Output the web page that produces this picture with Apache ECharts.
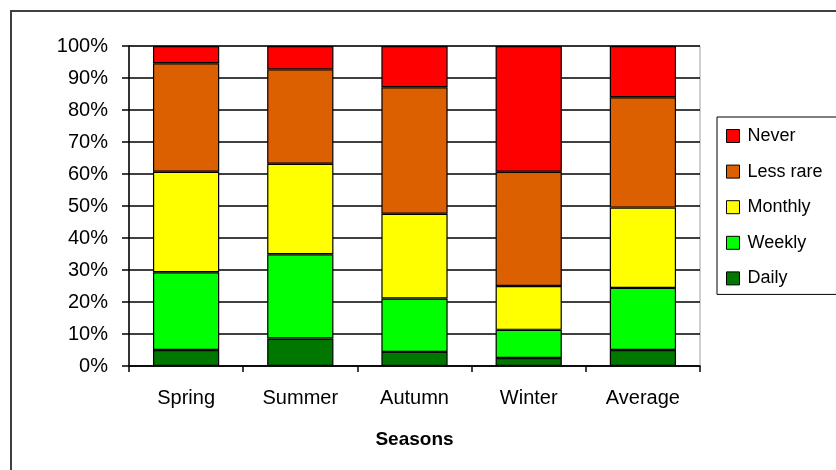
<!DOCTYPE html>
<html>
<head>
<meta charset="utf-8">
<script src="https://cdn.jsdelivr.net/npm/echarts@6/dist/echarts.min.js"></script>
<style>
  html, body { margin: 0; padding: 0; background: #fff; }
  #chart { width: 836px; height: 470px; }
</style>
</head>
<body>
<div id="chart"></div>
<script>
// categories and stacked shares (percent)
var seasons = ["Spring", "Summer", "Autumn", "Winter", "Average"];
var daily = [5.0, 8.6, 4.4, 2.5, 5.0];
var weekly = [24.3, 26.3, 16.7, 8.8, 19.4];
var monthly = [31.4, 28.3, 26.5, 13.7, 25.1];
var lessRare = [33.9, 29.5, 39.5, 35.7, 34.5];
var never = [5.4, 7.3, 12.9, 39.3, 16.0];

var font = "Arial, 'Liberation Sans', sans-serif";

function bar(name, data, color) {
  return {
    name: name,
    type: "bar",
    stack: "total",
    barWidth: "58%",
    data: data,
    itemStyle: { color: color, borderColor: "#000", borderWidth: 1.2 },
  };
}

var chart = echarts.init(document.getElementById("chart"));
chart.setOption({
  animation: false,
  grid: {
    left: 129,
    right: 136,
    top: 46,
    bottom: 104,
    show: true,
    borderColor: "#a0a0a0",
    borderWidth: 1,
  },
  graphic: [
    {
      type: "rect",
      shape: { x: 11, y: 11, width: 900, height: 500 },
      style: { fill: null, stroke: "#404040", lineWidth: 2 },
      silent: true,
    },
  ],
  legend: {
    orient: "vertical",
    left: 717,
    top: 117,
    padding: [10, 30, 7, 9],
    borderColor: "#000",
    borderWidth: 1,
    itemWidth: 13,
    itemHeight: 13,
    itemGap: 17.6,
    icon: "rect",
    data: ["Never", "Less rare", "Monthly", "Weekly", "Daily"],
    textStyle: { fontFamily: font, fontSize: 18, color: "#000", padding: [0, 0, 0, 3] },
    itemStyle: { borderColor: "#000", borderWidth: 1 },
  },
  xAxis: {
    type: "category",
    data: seasons,
    name: "Seasons",
    nameLocation: "middle",
    nameGap: 64,
    nameTextStyle: { fontFamily: font, fontSize: 19, fontWeight: "bold", color: "#000" },
    axisLine: { lineStyle: { color: "#000", width: 1.5 } },
    axisTick: { show: true, length: 6, lineStyle: { color: "#000", width: 1.5 } },
    axisLabel: { fontFamily: font, fontSize: 20, color: "#000", margin: 22 },
  },
  yAxis: {
    type: "value",
    min: 0,
    max: 100,
    interval: 10,
    axisLine: { show: true, lineStyle: { color: "#000", width: 1.5 } },
    axisTick: { show: true, length: 7, lineStyle: { color: "#000", width: 1.5 } },
    axisLabel: { fontFamily: font, fontSize: 20, color: "#000", margin: 21, formatter: "{value}%" },
    splitLine: { show: true, lineStyle: { color: "#000", width: 1.5 } },
  },
  series: [
    bar("Daily", daily, "#007800"),
    bar("Weekly", weekly, "#00ff00"),
    bar("Monthly", monthly, "#ffff00"),
    bar("Less rare", lessRare, "#dd6000"),
    bar("Never", never, "#ff0000"),
  ],
});
</script>
</body>
</html>
